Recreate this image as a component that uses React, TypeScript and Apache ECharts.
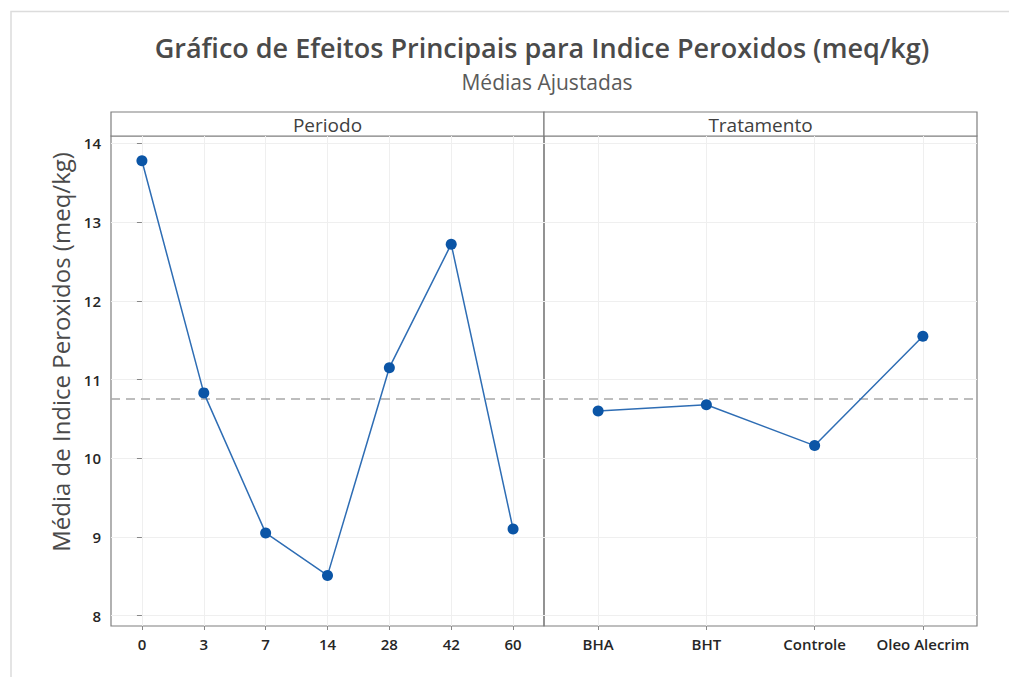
import React, { useEffect, useRef } from "react";
import * as echarts from "echarts";

const periodoCats = ["0", "3", "7", "14", "28", "42", "60"];
const periodoVals = [13.78, 10.83, 9.05, 8.51, 11.15, 12.72, 9.1];
const tratCats = ["BHA", "BHT", "Controle", "Oleo Alecrim"];
const tratVals = [10.6, 10.68, 10.16, 11.55];
const overallMean = 10.75;
const yTicks = [8, 9, 10, 11, 12, 13, 14];

const FONT = "'Open Sans', 'Noto Sans', sans-serif";

export default function App() {
  const ref = useRef<HTMLDivElement>(null);
  useEffect(() => {
    if (!ref.current) return;
    const chart = echarts.init(ref.current, undefined, { renderer: "svg" });
    const gridTop = 136;
    const gridH = 490;
    const panelW = 433;
    const lefts = [111, 544];
    const cats = [periodoCats, tratCats];
    const vals = [periodoVals, tratVals];

    const xAxes = cats.map((c, i) => ({
      type: "value",
      gridIndex: i,
      min: -0.5,
      max: c.length - 0.5,
      axisLine: { show: false },
      axisTick: {
        show: true,
        length: 4,
        lineStyle: { color: "#888" },
        customValues: c.map((_, k) => k),
      },
      axisLabel: {
        customValues: c.map((_, k) => k),
        formatter: (v: number) => c[Math.round(v)] ?? "",
        color: "#262626",
        fontSize: 15,
        fontFamily: FONT,
        fontWeight: 600,
        margin: 10,
      },
      splitLine: { show: true, lineStyle: { color: "#efefef", width: 1 } },
    }));

    const yAxes = [0, 1].map((i) => ({
      type: "value",
      gridIndex: i,
      min: 7.867,
      max: 14.095,
      axisLine: { show: false },
      axisTick: {
        show: i === 0,
        length: 5,
        lineStyle: { color: "#888" },
        customValues: yTicks,
      },
      axisLabel: {
        show: i === 0,
        customValues: yTicks,
        color: "#262626",
        fontSize: 15,
        fontFamily: FONT,
        fontWeight: 600,
        margin: 10,
      },
      splitLine: { show: true, lineStyle: { color: "#efefef", width: 1 } },
    }));

    const series = vals.map((v, i) => ({
      type: "line",
      xAxisIndex: i,
      yAxisIndex: i,
      data: v.map((y, k) => [k, y]),
      symbol: "circle",
      symbolSize: 11,
      itemStyle: { color: "#0B55A6" },
      lineStyle: { color: "#2E6DB4", width: 1.5 },
      markLine: {
        silent: true,
        symbol: "none",
        label: { show: false },
        lineStyle: { color: "#a8a8a8", type: [9, 6], width: 1.5 },
        data: [{ yAxis: overallMean }],
      },
      z: 5,
    }));

    chart.setOption({
      animation: false,
      backgroundColor: "#ffffff",
      title: [
        {
          text: "Gráfico de Efeitos Principais para Indice Peroxidos (meq/kg)",
          left: 537,
          top: 29,
          textAlign: "center",
          textStyle: { fontFamily: FONT, fontSize: 27, fontWeight: 600, color: "#4a4a4a" },
        },
        {
          text: "Médias Ajustadas",
          left: 542,
          top: 66,
          textAlign: "center",
          textStyle: { fontFamily: FONT, fontSize: 21, fontWeight: 400, color: "#5a5a5a" },
        },
      ],
      grid: lefts.map((l) => ({
        left: l,
        top: gridTop,
        width: panelW,
        height: gridH,
        show: true,
        borderColor: "#7f7f7f",
        borderWidth: 1.2,
        backgroundColor: "transparent",
        containLabel: false,
      })),
      xAxis: xAxes,
      yAxis: yAxes,
      series,
      graphic: [
        {
          type: "polyline",
          shape: { points: [[11, 677], [11, 11.5], [1009, 11.5]] },
          style: { stroke: "#dcdcdc", lineWidth: 1.5, fill: "none" },
          silent: true,
        },
        {
          type: "rect",
          shape: { x: 111, y: 112, width: panelW, height: 24 },
          style: { fill: "#ffffff", stroke: "#7f7f7f", lineWidth: 1.2 },
        },
        {
          type: "rect",
          shape: { x: 544, y: 112, width: panelW, height: 24 },
          style: { fill: "#ffffff", stroke: "#7f7f7f", lineWidth: 1.2 },
        },
        {
          type: "text",
          x: 111 + panelW / 2,
          y: 125,
          style: {
            text: "Periodo",
            fontFamily: FONT,
            fontSize: 19,
            fill: "#404040",
            align: "center",
            verticalAlign: "middle",
          },
        },
        {
          type: "text",
          x: 544 + panelW / 2,
          y: 125,
          style: {
            text: "Tratamento",
            fontFamily: FONT,
            fontSize: 19,
            fill: "#404040",
            align: "center",
            verticalAlign: "middle",
          },
        },
        {
          type: "text",
          x: 60,
          y: 352,
          rotation: Math.PI / 2,
          style: {
            text: "Média de Indice Peroxidos (meq/kg)",
            fontFamily: FONT,
            fontSize: 24,
            fill: "#4a4a4a",
            align: "center",
            verticalAlign: "middle",
          },
        },
      ],
    });
    return () => chart.dispose();
  }, []);
  return (
    <div
      ref={ref}
      style={{ position: "fixed", left: 0, top: 0, width: 1009, height: 677 }}
    />
  );
}
